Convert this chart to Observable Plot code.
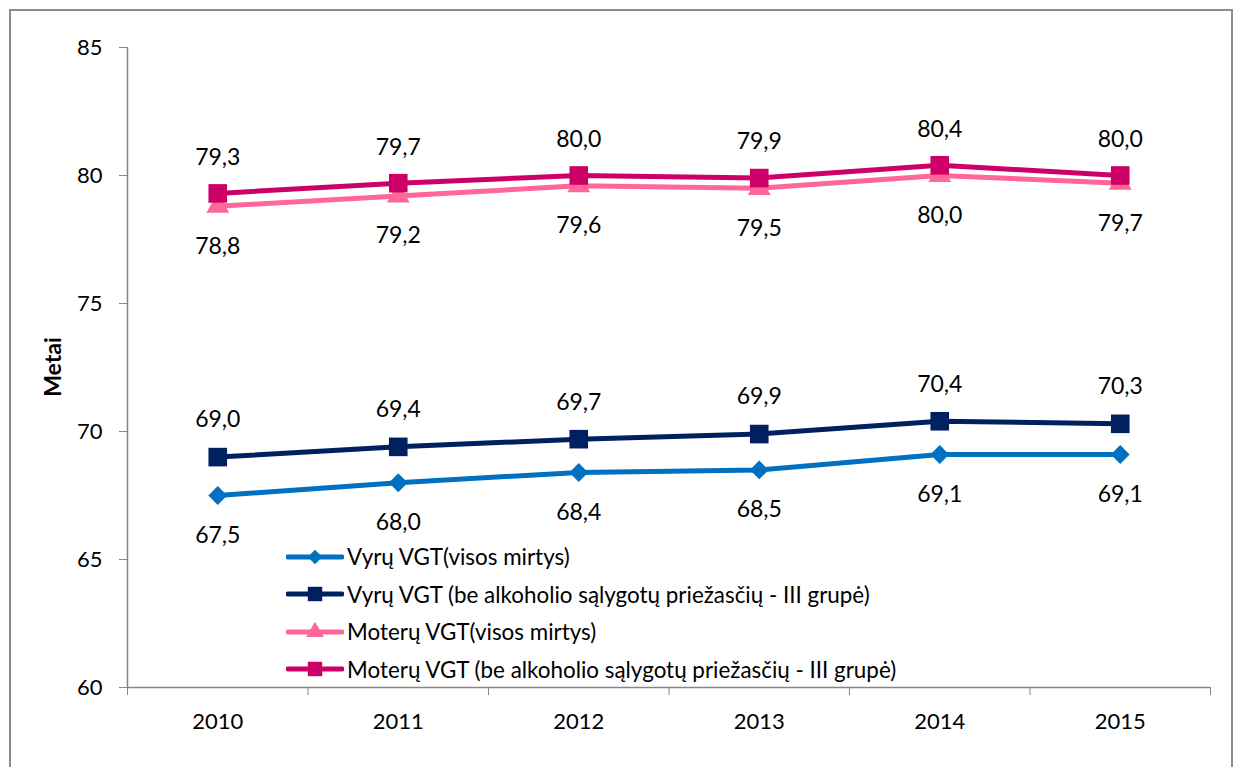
<!DOCTYPE html>
<html>
<head>
<meta charset="utf-8">
<script src="https://cdn.jsdelivr.net/npm/d3@7"></script>
<script src="https://cdn.jsdelivr.net/npm/@observablehq/plot@0.6"></script>
<style>
  html, body { margin: 0; padding: 0; background: #fff; overflow: hidden; }
  body { width: 1240px; height: 767px; position: relative; font-family: Lato, "Noto Sans", sans-serif; }
  #frame { position: absolute; left: 9px; top: 9px; width: 1224px; height: 800px; border: 2px solid #8c8c8c; box-sizing: border-box; pointer-events: none; }
  #chart { position: absolute; left: 0; top: 0; }
  #chart g[aria-label="y-axis tick"], #chart g[aria-label="x-axis tick"] { stroke: #868686; }
  #legend { position: absolute; left: 286px; top: 538px; font-size: 22.4px; color: #000; }
  .row { display: flex; align-items: center; height: 37.5px; white-space: nowrap; }
  .row svg { margin-right: 3px; }
</style>
</head>
<body>
<div id="chart"></div>
<div id="legend"></div>
<div id="frame"></div>
<script>
const years = [2010, 2011, 2012, 2013, 2014, 2015];
const yTicks = [60, 65, 70, 75, 80, 85];
const seriesNames = [
  "Vyrų VGT(visos mirtys)",
  "Vyrų VGT (be alkoholio sąlygotų priežasčių - III grupė)",
  "Moterų VGT(visos mirtys)",
  "Moterų VGT (be alkoholio sąlygotų priežasčių - III grupė)"
];
const vyruVisos = [67.5, 68.0, 68.4, 68.5, 69.1, 69.1];
const vyruBeAlk = [69.0, 69.4, 69.7, 69.9, 70.4, 70.3];
const moteruVisos = [78.8, 79.2, 79.6, 79.5, 80.0, 79.7];
const moteruBeAlk = [79.3, 79.7, 80.0, 79.9, 80.4, 80.0];
const yLabel = "Metai";

const colors = ["#0070C0", "#002060", "#FF6699", "#CC0066"];
const symbols = ["diamond2", "square", "triangle", "square"];
const radii = [8.5, 10.5, 8.5, 10.5];
const labelDy = [40, -37, 40, -36];
const valuesList = [vyruVisos, vyruBeAlk, moteruVisos, moteruBeAlk];

const bounds = years.map(y => y - 0.5).concat([years[years.length - 1] + 0.5]);
const fmt = v => v.toFixed(1).replace(".", ",");

const marks = [
  Plot.axisY({ticks: yTicks, tickSize: 8, tickPadding: 17, fontSize: 22, label: null, tickFormat: d => String(d)}),
  Plot.axisX({ticks: bounds, tickSize: 8, label: null, tickFormat: () => ""}),
  Plot.axisX({ticks: years, tickSize: 0, tickPadding: 26, fontSize: 22, label: null, tickFormat: d => String(d)}),
  Plot.ruleX([bounds[0]], {stroke: "#868686", strokeWidth: 1.5}),
  Plot.ruleY([yTicks[0]], {stroke: "#868686", strokeWidth: 1.5})
];

valuesList.forEach((vals, i) => {
  const data = years.map((y, j) => ({year: y, value: vals[j]}));
  marks.push(Plot.line(data, {x: "year", y: "value", stroke: colors[i], strokeWidth: 5}));
  marks.push(Plot.dot(data, {x: "year", y: "value", symbol: symbols[i], r: radii[i], fill: colors[i], stroke: "none"}));
});
valuesList.forEach((vals, i) => {
  const data = years.map((y, j) => ({year: y, value: vals[j]}));
  marks.push(Plot.text(data, {x: "year", y: "value", text: d => fmt(d.value), dy: labelDy[i], fontSize: 23, fill: "#000"}));
});

const chart = Plot.plot({
  width: 1240,
  height: 767,
  marginLeft: 127,
  marginRight: 30,
  marginTop: 47,
  marginBottom: 80,
  style: {fontFamily: "Lato, 'Noto Sans', sans-serif", fontSize: "22px", color: "#000", background: "transparent"},
  x: {domain: [bounds[0], bounds[bounds.length - 1]], axis: null},
  y: {domain: [yTicks[0], yTicks[yTicks.length - 1]], axis: null},
  marks
});
document.getElementById("chart").appendChild(chart);

// y label
const svg = d3.select(chart);
svg.append("text")
  .attr("transform", "translate(61,367) rotate(-90)")
  .attr("text-anchor", "middle")
  .attr("font-weight", "bold")
  .attr("font-size", 23)
  .attr("fill", "#000")
  .text(yLabel);

// legend
const legend = d3.select("#legend");
seriesNames.forEach((name, i) => {
  const row = legend.append("div").attr("class", "row");
  const s = row.append("svg").attr("width", 58).attr("height", 24);
  s.append("line").attr("x1", 2).attr("x2", 56).attr("y1", 12).attr("y2", 12)
    .attr("stroke", colors[i]).attr("stroke-width", 5).attr("stroke-linecap", "round");
  const sym = {diamond2: d3.symbolDiamond2, square: d3.symbolSquare, triangle: d3.symbolTriangle}[symbols[i]];
  const size = Math.PI * radii[i] * radii[i] * 0.6;
  s.append("path").attr("transform", "translate(29,12)").attr("d", d3.symbol(sym, size)()).attr("fill", colors[i]);
  row.append("span").text(name);
});
</script>
</body>
</html>
